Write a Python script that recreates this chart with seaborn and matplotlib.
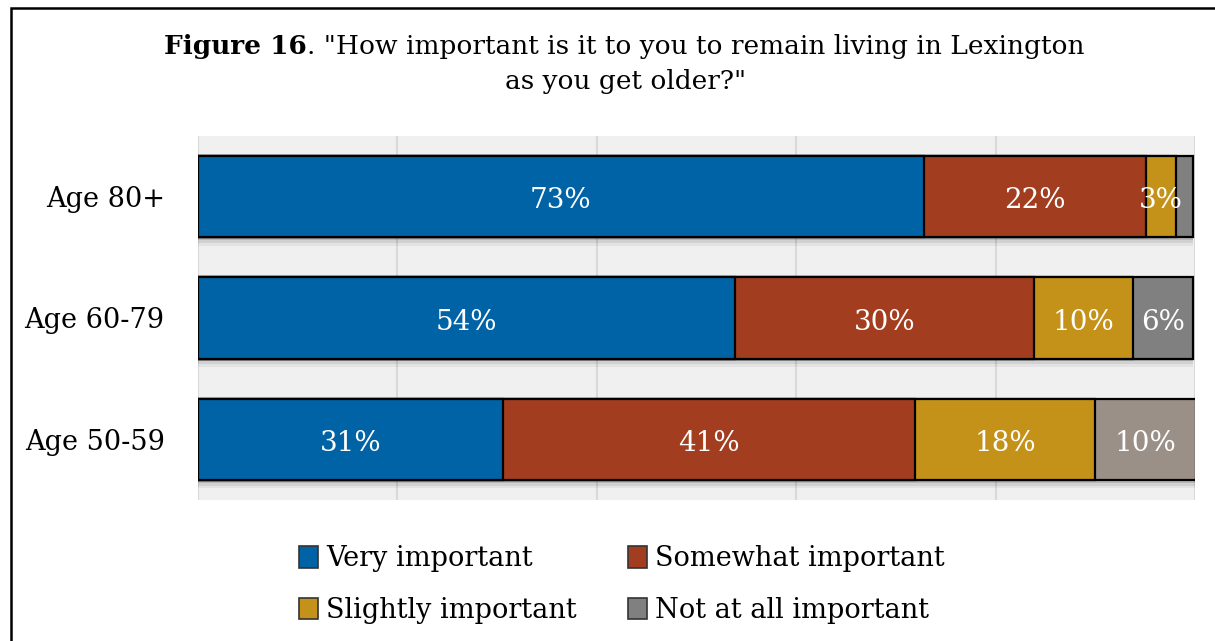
import matplotlib
matplotlib.use('Agg')
import matplotlib.pyplot as plt
import matplotlib.patheffects as pe
from matplotlib.patches import Patch, Rectangle
import seaborn as sns
import pandas as pd

# data (percent of respondents)
groups = ['Age 80+', 'Age 60-79', 'Age 50-59']
very_important = [72.8, 53.9, 30.6]
somewhat_important = [22.3, 30.0, 41.3]
slightly_important = [3.0, 9.9, 18.1]
not_important = [1.7, 6.0, 10.1]
series_names = ['Very important', 'Somewhat important', 'Slightly important', 'Not at all important']

blue = '#0063A6'
red = '#A23E1F'
gold = '#C49218'
grays = ['#808080', '#808080', '#9A9088']

sns.set_style('white')
plt.rcParams['font.family'] = ['DejaVu Serif']
plt.rcParams['text.color'] = 'black'
plt.rcParams['ytick.labelcolor'] = 'black'

df = pd.DataFrame({'group': groups,
                   'v1': very_important, 's2': somewhat_important,
                   's3': slightly_important, 'n4': not_important})
df['c1'] = df['v1']
df['c2'] = df['c1'] + df['s2']
df['c3'] = df['c2'] + df['s3']
df['c4'] = df['c3'] + df['n4']

fig = plt.figure(figsize=(12.15, 6.41), dpi=100)
ax = fig.add_axes([0.163, 0.22, 0.8205, 0.568])
ax.set_facecolor('#F0F0F0')

# soft shadow under each bar
shadow = [pe.SimplePatchShadow(offset=(0, -2), shadow_rgbFace='black', alpha=0.12),
          pe.SimplePatchShadow(offset=(0, -4), shadow_rgbFace='black', alpha=0.08),
          pe.SimplePatchShadow(offset=(0, -6), shadow_rgbFace='black', alpha=0.05),
          pe.Normal()]

# stacked bars drawn back-to-front as cumulative totals
sns.barplot(data=df, x='c4', y='group', hue='group', palette=grays, legend=False,
            order=groups, width=0.67, edgecolor='black', linewidth=1.6, ax=ax, orient='h',
            saturation=1)
for p in ax.patches:
    p.set_path_effects(shadow)
sns.barplot(data=df, x='c3', y='group', color=gold, order=groups, width=0.67,
            edgecolor='black', linewidth=1.6, ax=ax, orient='h', saturation=1)
sns.barplot(data=df, x='c2', y='group', color=red, order=groups, width=0.67,
            edgecolor='black', linewidth=1.6, ax=ax, orient='h', saturation=1)
sns.barplot(data=df, x='c1', y='group', color=blue, order=groups, width=0.67,
            edgecolor='black', linewidth=1.6, ax=ax, orient='h', saturation=1)

# value labels
for i, row in df.iterrows():
    prev = 0
    for val, cum in [(row['v1'], row['c1']), (row['s2'], row['c2']),
                     (row['s3'], row['c3']), (row['n4'], row['c4'])]:
        if round(val) >= 3:
            ax.text(prev + val / 2, i + 0.035, f'{round(val)}%', ha='center', va='center',
                    color='white', fontsize=20)
        prev = cum

ax.set_xlim(0, 100)
ax.set_ylim(2.5, -0.5)
ax.set_xticks([0, 20, 40, 60, 80, 100])
ax.set_xticklabels([])
ax.grid(axis='x', color='#D9D9D9', linewidth=1.5)
ax.set_axisbelow(True)
ax.tick_params(axis='x', length=0)
ax.tick_params(axis='y', length=0, labelsize=19.5, pad=24)
ax.set_xlabel('')
ax.set_ylabel('')
for s in ax.spines.values():
    s.set_visible(False)

# legend
colors = [blue, red, gold, '#808080']
handles = [Patch(facecolor=c, edgecolor='#333333', linewidth=1.2, label=n) for c, n in zip(colors, series_names)]
order_idx = [0, 2, 1, 3]
fig.legend([handles[k] for k in order_idx], [series_names[k] for k in order_idx], ncol=2,
           loc='center', bbox_to_anchor=(0.512, 0.088), frameon=False, fontsize=19.5,
           handlelength=0.7, handleheight=0.85, handletextpad=0.3, columnspacing=1.9,
           labelspacing=0.92)

# title: bold "Figure 16" followed by regular text, centred as a whole
t1 = fig.text(0.5, 0.927, 'Figure 16', fontsize=19, fontweight='bold', ha='left', va='center')
t2 = fig.text(0.5, 0.927, '. "How important is it to you to remain living in Lexington',
              fontsize=19, ha='left', va='center')
fig.text(0.515, 0.873, 'as you get older?"', fontsize=19, ha='center', va='center')
fig.canvas.draw()
r = fig.canvas.get_renderer()
w1 = t1.get_window_extent(r).width
w2 = t2.get_window_extent(r).width
x0 = 624 - (w1 + w2) / 2
t1.set_x(x0 / 1215)
t2.set_x((x0 + w1) / 1215)

# outer frame
fig.patches.append(Rectangle((11 / 1215, -0.1), 1.2, 1 - 8 / 641 + 0.1, transform=fig.transFigure,
                             fill=False, edgecolor='black', linewidth=1.8))

fig.savefig('out.png', dpi=100)
